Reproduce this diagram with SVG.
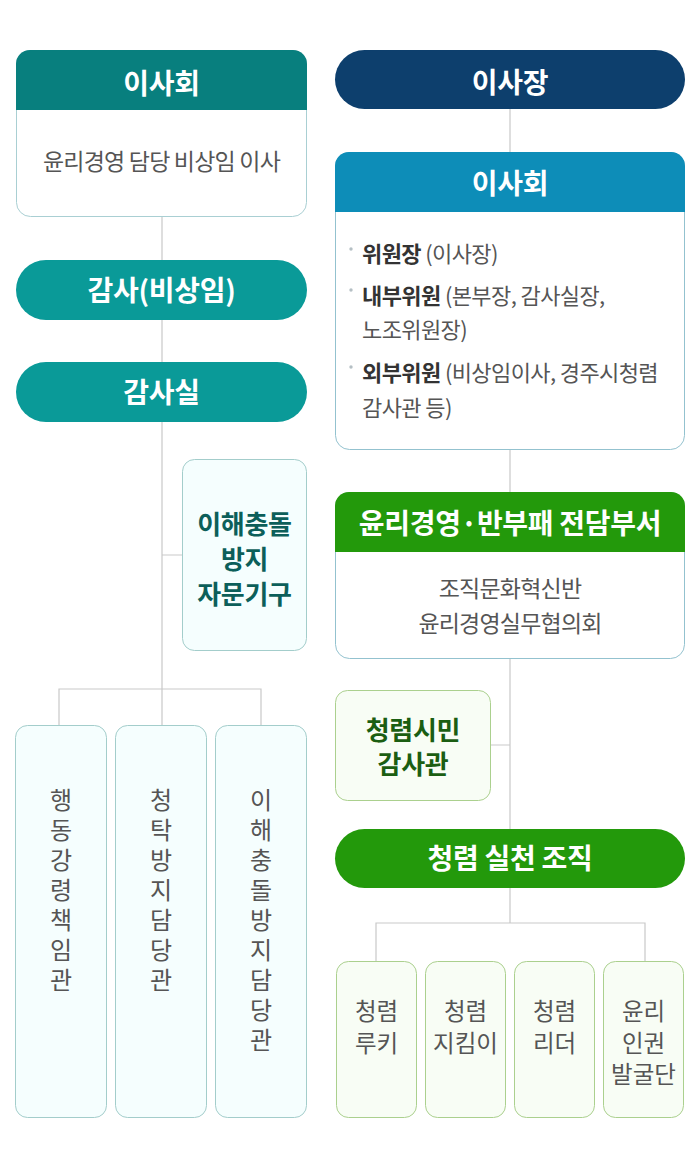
<svg xmlns="http://www.w3.org/2000/svg" width="700" height="1169" viewBox="0 0 700 1169">
<style>
text{font-family:"Noto Sans CJK KR","Noto Sans",sans-serif;dominant-baseline:central}
.title{font-size:28px;font-weight:700;fill:#fff;text-anchor:middle;letter-spacing:-0.3px}
.body{font-size:23px;fill:#555;text-anchor:middle;letter-spacing:-0.8px}
.vt{font-size:23.5px;fill:#555;text-anchor:middle}
.vv{font-size:24px;fill:#555;writing-mode:vertical-rl;text-orientation:upright;letter-spacing:6px}
.gb{font-size:26px;font-weight:700;text-anchor:middle;letter-spacing:-0.3px}
.ln{stroke:#c9c9c9;stroke-width:1.2;fill:none}
.bl{font-size:22px;fill:#555;letter-spacing:-0.6px}
.bl tspan.b{font-weight:700;fill:#333}
</style>
<rect width="700" height="1169" fill="#fff"/>
<g id="connectors">
<path class="ln" d="M162,217 V260 M162,320 V362 M162,422 V725 M162,555 H182 M59,725 V689 H261 V725"/>
<path class="ln" d="M510,109 V152 M510,450 V492 M510,659 V829 M491,745 H510 M510,888 V923 M376,961 V923 H645 V961"/>
</g>
<g id="board-left">
<rect x="16.5" y="50.5" width="290" height="166" rx="14" fill="#fff" stroke="#a9cfd3"/>
<path d="M16,110 V64 A14,14 0 0 1 30,50 H293 A14,14 0 0 1 307,64 V110 Z" fill="#087f7e"/>
<text class="title" x="161.5" y="82">이사회</text>
<text class="body" x="161.5" y="160">윤리경영 담당 비상임 이사</text>
</g>
<g id="auditor">
<rect x="16" y="260" width="291" height="60" rx="30" fill="#0a9a98"/>
<text class="title" x="161.5" y="289">감사(비상임)</text>
</g>
<g id="audit-office">
<rect x="16" y="362" width="291" height="60" rx="30" fill="#0a9a98"/>
<text class="title" x="161.5" y="391">감사실</text>
</g>
<g id="conflict-advisory">
<rect x="182.5" y="459.5" width="124" height="191" rx="12" fill="#f5fefe" stroke="#a3cdcb"/>
<text class="gb" fill="#0c5f5a"><tspan x="244.5" y="522">이해충돌</tspan><tspan x="244.5" y="557">방지</tspan><tspan x="244.5" y="592">자문기구</tspan></text>
</g>
<g id="code-officer">
<rect x="15.5" y="725.5" width="91" height="392" rx="12" fill="#f5fefe" stroke="#a3cdcb"/>
<text class="vv" x="61" y="788">행동강령책임관</text>
</g>
<g id="solicitation-officer">
<rect x="115.5" y="725.5" width="91" height="392" rx="12" fill="#f5fefe" stroke="#a3cdcb"/>
<text class="vv" x="161" y="788">청탁방지담당관</text>
</g>
<g id="conflict-officer">
<rect x="215.5" y="725.5" width="91" height="392" rx="12" fill="#f5fefe" stroke="#a3cdcb"/>
<text class="vv" x="261" y="788">이해충돌방지담당관</text>
</g>
<g id="chairman">
<rect x="335" y="50" width="350" height="59" rx="29.5" fill="#0d3f6d"/>
<text class="title" x="510" y="81">이사장</text>
</g>
<g id="board-right">
<rect x="335.5" y="152.5" width="349" height="297" rx="14" fill="#fff" stroke="#93c2cf"/>
<path d="M335,212 V166 A14,14 0 0 1 349,152 H671 A14,14 0 0 1 685,166 V212 Z" fill="#0d8db8"/>
<text class="title" x="510" y="182">이사회</text>
<g fill="#b5bfc4"><circle cx="351" cy="249" r="1.7"/><circle cx="351" cy="290" r="1.7"/><circle cx="351" cy="367" r="1.7"/></g>
<text class="bl" x="362" y="252"><tspan class="b">위원장</tspan> (이사장)</text>
<text class="bl" x="362" y="294"><tspan class="b">내부위원</tspan> (본부장, 감사실장,</text>
<text class="bl" x="362" y="328">노조위원장)</text>
<text class="bl" x="362" y="371"><tspan class="b">외부위원</tspan> (비상임이사, 경주시청렴</text>
<text class="bl" x="362" y="406">감사관 등)</text>
</g>
<g id="ethics-dept">
<rect x="335.5" y="492.5" width="349" height="166" rx="14" fill="#fff" stroke="#93c2cf"/>
<path d="M335,552 V506 A14,14 0 0 1 349,492 H671 A14,14 0 0 1 685,506 V552 Z" fill="#23990b"/>
<text class="title" x="510" y="522">윤리경영·반부패 전담부서</text>
<text class="body" x="510" y="587">조직문화혁신반</text>
<text class="body" x="510" y="622">윤리경영실무협의회</text>
</g>
<g id="citizen-auditor">
<rect x="335.5" y="690.5" width="155" height="110" rx="12" fill="#f8fdf5" stroke="#abd08e"/>
<text class="gb" fill="#1b5e12"><tspan x="413" y="728">청렴시민</tspan><tspan x="413" y="762">감사관</tspan></text>
</g>
<g id="integrity-org">
<rect x="335" y="829" width="350" height="59" rx="29.5" fill="#23990b"/>
<text class="title" x="510" y="857">청렴 실천 조직</text>
</g>
<g id="rookie">
<rect x="336.5" y="961.5" width="80" height="156" rx="12" fill="#f8fdf5" stroke="#abd08e"/>
<text class="vt" x="376.5" y="1010">청렴</text>
<text class="vt" x="376.5" y="1042">루키</text>
</g>
<g id="keeper">
<rect x="425.5" y="961.5" width="80" height="156" rx="12" fill="#f8fdf5" stroke="#abd08e"/>
<text class="vt" x="465.5" y="1010">청렴</text>
<text class="vt" x="465.5" y="1042">지킴이</text>
</g>
<g id="leader">
<rect x="514.5" y="961.5" width="80" height="156" rx="12" fill="#f8fdf5" stroke="#abd08e"/>
<text class="vt" x="554.5" y="1010">청렴</text>
<text class="vt" x="554.5" y="1042">리더</text>
</g>
<g id="rights-team">
<rect x="603.5" y="961.5" width="80" height="156" rx="12" fill="#f8fdf5" stroke="#abd08e"/>
<text class="vt" x="643.5" y="1010">윤리</text>
<text class="vt" x="643.5" y="1042">인권</text>
<text class="vt" x="643.5" y="1073">발굴단</text>
</g>
</svg>
